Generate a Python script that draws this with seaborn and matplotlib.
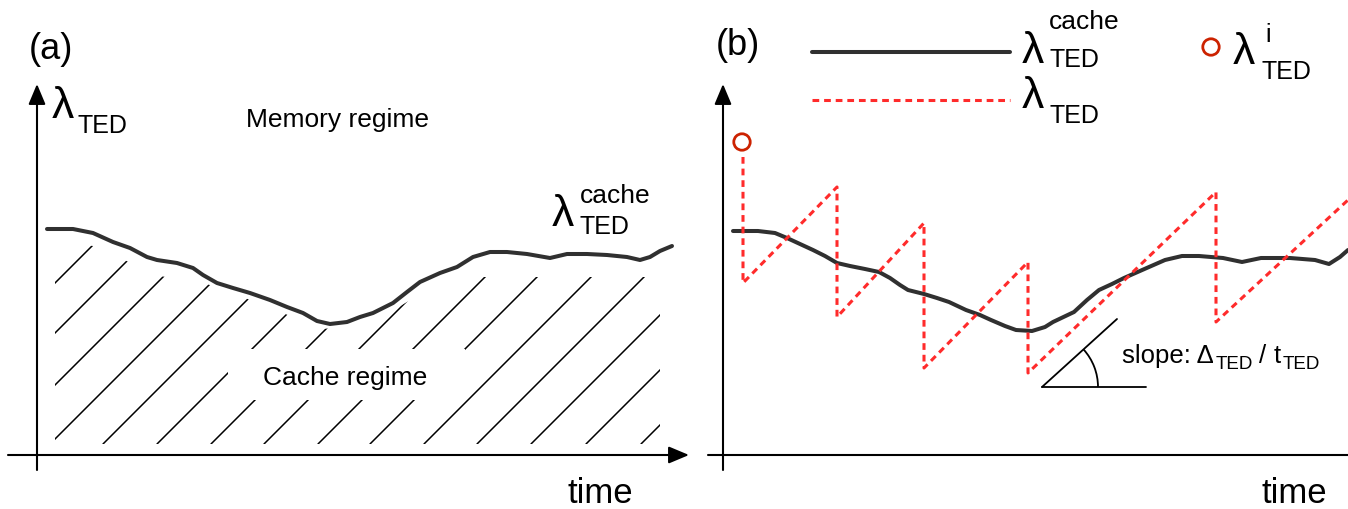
import matplotlib
matplotlib.use("Agg")
import matplotlib.pyplot as plt
import seaborn as sns
import pandas as pd
from matplotlib.patches import Polygon, Rectangle, Arc

# ---------------- data (figure pixel units) ----------------
# panel (a): lambda_TED^cache curve
cache_a_x = [47, 73, 93, 113, 130, 147, 157, 177, 193, 203, 217, 233, 250, 270, 287, 303,
             317, 330, 347, 360, 373, 393, 407, 420, 440, 457, 473, 490, 507, 527, 550,
             567, 587, 607, 627, 640, 650, 660, 672]
cache_a_y = [229, 229, 233, 242, 248, 257, 260, 263, 268, 275, 283, 288, 293, 300, 307, 313,
             321, 324, 322, 317, 313, 303, 292, 282, 273, 267, 257, 252, 252, 254, 258,
             254, 254, 255, 257, 260, 257, 251, 246]

# panel (a): upper boundary of the hatched "cache regime" area
hatch_top_x = [55, 93, 122, 160, 207, 245, 283, 321, 350, 377, 407, 440, 470, 660]
hatch_top_y = [240, 246, 259, 276, 284, 298, 313, 329, 327, 320, 302, 285, 277, 277]
hatch_offsets = [338, 388, 440, 494, 547, 601, 655, 708, 762, 814, 868, 921, 975, 1030, 1085]

# panel (b): lambda_TED^cache curve
cache_b_x = [733, 758, 775, 787, 800, 813, 825, 837, 850, 865, 879, 890, 900, 908, 924, 937,
             949, 966, 980, 991, 1005, 1016, 1032, 1045, 1053, 1074, 1087, 1099, 1112, 1124,
             1149, 1165, 1182, 1199, 1223, 1242, 1261, 1290, 1315, 1329, 1340, 1348]
cache_b_y = [231, 231, 233, 238, 244, 250, 256, 263, 266, 269, 272, 278, 285, 290, 294, 298,
             302, 310, 315, 320, 326, 330, 331, 327, 322, 312, 300, 290, 284, 278,
             267, 260, 256, 256, 258, 262, 258, 258, 260, 264, 257, 250]

# panel (b): lambda_TED sawtooth and initial value
ted_b_x = [743, 743, 837, 837, 924, 924, 1028, 1028, 1216, 1216, 1348]
ted_b_y = [157, 283, 187, 317, 223, 368, 262, 373, 192, 322, 200]
init_x = [742]
init_y = [142]

# legend of panel (b)
legend_line_x = [812, 1010]
legend_cache_y = [52, 52]
legend_ted_y = [100, 100]
legend_init_x = [1211]
legend_init_y = [47]

# slope sketch
slope_base_x = [1042, 1146]
slope_base_y = [387, 387]
slope_diag_x = [1042, 1117]
slope_diag_y = [387, 319]

RED = "#ff2b2b"
DARKRED = "#cc2200"
CURVE = "#303030"

sns.set_theme(style="white")
plt.rcParams["font.family"] = ["Liberation Sans", "DejaVu Sans"]
plt.rcParams["text.color"] = "black"

fig = plt.figure(figsize=(13.48, 5.09), dpi=100)
ax = fig.add_axes([0, 0, 1, 1])
ax.set_xlim(0, 1348)
ax.set_ylim(509, 0)
ax.axis("off")

arrow_kw = dict(arrowstyle="-|>,head_length=0.62,head_width=0.26", mutation_scale=20,
                lw=1.5, color="black", shrinkA=0, shrinkB=0)

LAM = 32

# ---------------- panel (a) ----------------
ax.annotate("", xy=(37, 84), xytext=(37, 470), arrowprops=arrow_kw)
ax.annotate("", xy=(689, 455), xytext=(8, 455), arrowprops=arrow_kw)

# hatching clipped to the region under the curve
region = [(x, y) for x, y in zip(hatch_top_x, hatch_top_y)] + [(660, 444), (55, 444)]
clip = Polygon(region, closed=True, transform=ax.transData)
for c in hatch_offsets:
    ln, = ax.plot([c - 444, c - 180], [444, 180], color="black", lw=1.1, zorder=2)
    ln.set_clip_path(clip)
ax.add_patch(Rectangle((228, 349), 237, 51, facecolor="white", edgecolor="none", zorder=3))

sns.lineplot(x=cache_a_x, y=cache_a_y, sort=False, estimator=None, ax=ax,
             color=CURVE, lw=2.9, zorder=4)

ax.text(29, 59, "(a)", fontsize=26, va="baseline", ha="left")
ax.text(52, 118, "λ", fontsize=LAM, va="baseline", ha="left")
ax.text(78, 133, "TED", fontsize=18, va="baseline", ha="left")
ax.text(337, 127, "Memory regime", fontsize=19, va="baseline", ha="center")
ax.text(345, 385, "Cache regime", fontsize=19, va="baseline", ha="center", zorder=5)
ax.text(552, 226, "λ", fontsize=LAM, va="baseline", ha="left")
ax.text(580, 203, "cache", fontsize=19, va="baseline", ha="left")
ax.text(580, 234, "TED", fontsize=18, va="baseline", ha="left")
ax.text(600, 503, "time", fontsize=25, va="baseline", ha="center")

# ---------------- panel (b) ----------------
ax.annotate("", xy=(723, 84), xytext=(723, 470), arrowprops=arrow_kw)
ax.plot([708, 1348], [455, 455], color="black", lw=1.5)

sns.lineplot(x=cache_b_x, y=cache_b_y, sort=False, estimator=None, ax=ax,
             color=CURVE, lw=2.9, zorder=4)
sns.lineplot(x=ted_b_x, y=ted_b_y, sort=False, estimator=None, ax=ax,
             color=RED, lw=2.2, zorder=5).lines[-1].set_dashes((2.2, 1.6))
sns.scatterplot(x=init_x, y=init_y, ax=ax, s=140, facecolor="none",
                edgecolor=DARKRED, linewidth=2.0, zorder=6)

# legend
sns.lineplot(x=legend_line_x, y=legend_cache_y, ax=ax, color=CURVE, lw=2.9, estimator=None)
sns.lineplot(x=legend_line_x, y=legend_ted_y, ax=ax, color=RED, lw=2.2,
             estimator=None).lines[-1].set_dashes((2.2, 1.6))
sns.scatterplot(x=legend_init_x, y=legend_init_y, ax=ax, s=140, facecolor="none",
                edgecolor=DARKRED, linewidth=2.0, zorder=6)

ax.text(1022, 63, "λ", fontsize=LAM, va="baseline", ha="left")
ax.text(1049, 29, "cache", fontsize=19, va="baseline", ha="left")
ax.text(1050, 67, "TED", fontsize=18, va="baseline", ha="left")
ax.text(1022, 108, "λ", fontsize=LAM, va="baseline", ha="left")
ax.text(1050, 123, "TED", fontsize=18, va="baseline", ha="left")
ax.text(1233, 64, "λ", fontsize=LAM, va="baseline", ha="left")
ax.text(1265, 42, "i", fontsize=18, va="baseline", ha="left")
ax.text(1262, 79, "TED", fontsize=18, va="baseline", ha="left")

ax.text(716, 55, "(b)", fontsize=26, va="baseline", ha="left")
ax.text(1294, 503, "time", fontsize=25, va="baseline", ha="center")

# slope sketch
sns.lineplot(x=slope_base_x, y=slope_base_y, ax=ax, color="black", lw=1.3, estimator=None)
sns.lineplot(x=slope_diag_x, y=slope_diag_y, ax=ax, color="black", lw=1.3,
             estimator=None, sort=False)
ax.add_patch(Arc((1042, 387), 112, 112, theta1=-42, theta2=0, color="black", lw=1.3))
ax.text(1122, 363, "slope: Δ", fontsize=18.5, va="baseline", ha="left")
ax.text(1216, 369, "TED", fontsize=13.5, va="baseline", ha="left")
ax.text(1259, 363, "/", fontsize=18.5, va="baseline", ha="left")
ax.text(1274, 363, "t", fontsize=18.5, va="baseline", ha="left")
ax.text(1283, 369, "TED", fontsize=13.5, va="baseline", ha="left")

if ax.get_legend() is not None:
    ax.get_legend().remove()

fig.savefig("out.png", dpi=100)
